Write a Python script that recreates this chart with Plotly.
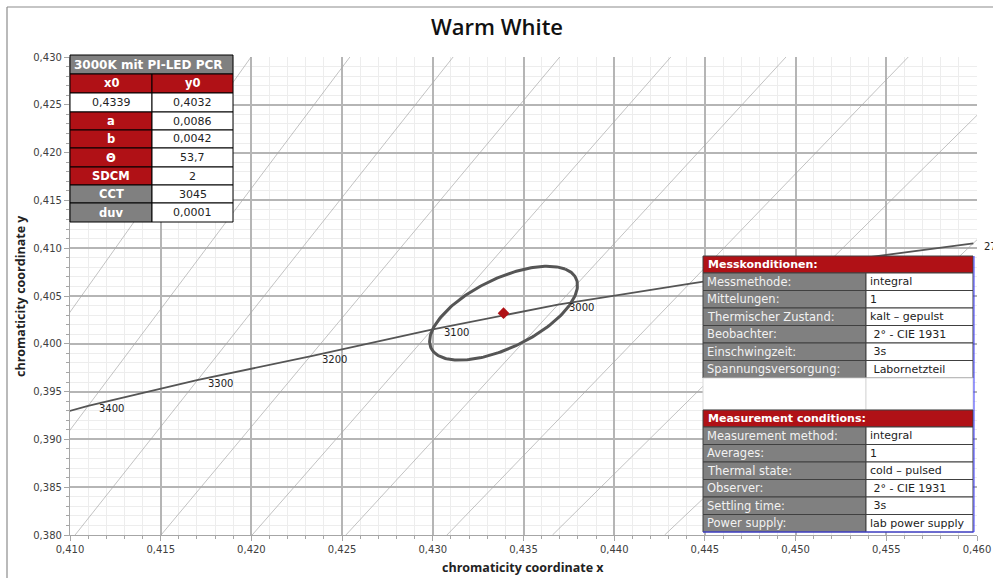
import numpy as np
import plotly.graph_objects as go

# ---------------- data ----------------
title_text = "Warm White"

# Planckian locus points
locus_cct = ["", "3400", "3300", "3200", "3100", "3000", "", "", "2700"]
locus_x = [0.4052, 0.4110, 0.4170, 0.4233, 0.4300, 0.4369, 0.4442, 0.4518, 0.4598]
locus_y = [0.3905, 0.3935, 0.3962, 0.3987, 0.4015, 0.4041, 0.4063, 0.4085, 0.4105]

# isotherm lines: x where each line meets y=0.380 and y=0.430
iso_y_low, iso_y_high = 0.380, 0.430
iso_x_low = [0.40128, 0.40566, 0.41028, 0.41502, 0.42004, 0.42521, 0.43078, 0.43660, 0.44278]
iso_x_high = [0.41998, 0.42543, 0.43112, 0.43700, 0.44312, 0.44947, 0.45621, 0.46325, 0.47066]

# ellipse parameters
x0, y0 = 0.4339, 0.4032
ell_a, ell_b, ell_theta = 0.0086, 0.0042, 53.7
sdcm = 2
table_title = "3000K mit PI-LED PCR"

param_labels = ["a", "b", "Θ", "SDCM", "CCT", "duv"]
param_values = ["0,0086", "0,0042", "53,7", "2", "3045", "0,0001"]
param_kinds = ["red", "red", "red", "red", "gray", "gray"]

mess_title_de = "Messkonditionen:"
mess_labels_de = ["Messmethode:", "Mittelungen:", "Thermischer Zustand:", "Beobachter:",
                  "Einschwingzeit:", "Spannungsversorgung:"]
mess_values_de = ["integral", "1", "kalt – gepulst", "\u00a02° - CIE 1931", "\u00a03s", "\u00a0Labornetzteil"]
mess_title_en = "Measurement conditions:"
mess_labels_en = ["Measurement method:", "Averages:", "Thermal state:", "Observer:",
                  "Settling time:", "Power supply:"]
mess_values_en = ["integral", "1", "cold – pulsed", "\u00a02° - CIE 1931", "\u00a03s", "lab power supply"]

x_range = [0.410, 0.460]
y_range = [0.380, 0.430]

# ---------------- layout helpers ----------------
W, H = 993, 578
L, R, T, B = 70, 977, 57, 535  # plot area in pixels
RED = "#b01116"
GRAY = "#808080"
FONT = "DejaVu Sans"


def fx(px):
    return (px - L) / (R - L)


def fy(py):
    return (B - py) / (B - T)


fig = go.Figure()

# isotherms
for xl, xh in zip(iso_x_low, iso_x_high):
    fig.add_trace(go.Scatter(x=[xl, xh], y=[iso_y_low, iso_y_high], mode="lines",
                             line=dict(color="#a8a8a8", width=0.7), hoverinfo="skip",
                             showlegend=False))

# Planckian locus
fig.add_trace(go.Scatter(x=locus_x, y=locus_y, mode="lines",
                         line=dict(color="#555555", width=1.8), showlegend=False))

# ellipse
t = np.linspace(0, 2 * np.pi, 241)
th = np.deg2rad(ell_theta)
a_d = ell_a * sdcm / 3
b_d = ell_b * sdcm / 3
ex = x0 + a_d * np.cos(t) * np.cos(th) - b_d * np.sin(t) * np.sin(th)
ey = y0 + a_d * np.cos(t) * np.sin(th) + b_d * np.sin(t) * np.cos(th)
fig.add_trace(go.Scatter(x=ex, y=ey, mode="lines", line=dict(color="#555555", width=3),
                         showlegend=False))
fig.add_trace(go.Scatter(x=[x0], y=[y0], mode="markers",
                         marker=dict(symbol="diamond", size=9, color=RED),
                         showlegend=False))

shapes = []
annots = []

# locus labels
for lx, ly, lab in zip(locus_x, locus_y, locus_cct):
    if lab:
        annots.append(dict(x=lx, y=ly, xref="x", yref="y", text=lab, showarrow=False,
                           xanchor="left", yanchor="middle", xshift=9, yshift=-3,
                           font=dict(family=FONT, size=10, color="#222")))


def cell(x1, y1, x2, y2, fill, line="#000000", lw=1):
    shapes.append(dict(type="rect", xref="paper", yref="paper", x0=fx(x1), x1=fx(x2),
                       y0=fy(y2), y1=fy(y1), fillcolor=fill,
                       line=dict(color=line, width=lw), layer="above"))


def text(px, py, s, color="#222", size=11, bold=False, anchor="center"):
    if bold:
        s = "<b>" + s + "</b>"
    annots.append(dict(xref="paper", yref="paper", x=fx(px), y=fy(py), text=s,
                       showarrow=False, xanchor=anchor, yanchor="middle",
                       font=dict(family=FONT, size=size, color=color)))


# ---- top-left table ----
tx1, tx2, tx3 = 70, 152, 233
rows = [55, 74, 93, 112, 130, 148, 167, 185, 203, 222]
cell(tx1, rows[0], tx3, rows[1], GRAY)
text(tx1 + 2, (rows[0] + rows[1]) / 2, table_title, "#ffffff", 12, True, "left")
cell(tx1, rows[1], tx2, rows[2], RED)
cell(tx2, rows[1], tx3, rows[2], RED)
text((tx1 + tx2) / 2, (rows[1] + rows[2]) / 2, "x0", "#ffffff", 11.5, True)
text((tx2 + tx3) / 2, (rows[1] + rows[2]) / 2, "y0", "#ffffff", 11.5, True)
cell(tx1, rows[2], tx2, rows[3], "#ffffff")
cell(tx2, rows[2], tx3, rows[3], "#ffffff")
text((tx1 + tx2) / 2, (rows[2] + rows[3]) / 2, f"{x0:.4f}".replace(".", ","), "#222", 11)
text((tx2 + tx3) / 2, (rows[2] + rows[3]) / 2, f"{y0:.4f}".replace(".", ","), "#222", 11)
for i, (lab, val, kind) in enumerate(zip(param_labels, param_values, param_kinds)):
    r1, r2 = rows[3 + i], rows[4 + i]
    cell(tx1, r1, tx2, r2, RED if kind == "red" else GRAY)
    cell(tx2, r1, tx3, r2, "#ffffff")
    text((tx1 + tx2) / 2, (r1 + r2) / 2, lab, "#ffffff", 11.5, True)
    text((tx2 + tx3) / 2, (r1 + r2) / 2, val, "#222", 11)

# ---- right tables ----
rx1, rx2, rx3 = 703, 866, 973


def cond_table(top, rowh, title, labels, values):
    cell(rx1, top, rx3, top + 17, RED, "#404040")
    text(rx1 + 3, top + 8.5, title, "#ffffff", 11, True, "left")
    y = top + 17
    for lab, val in zip(labels, values):
        cell(rx1, y, rx2, y + rowh, GRAY, "#404040")
        cell(rx2, y, rx3, y + rowh, "#ffffff", "#404040")
        text(rx1 + 2, y + rowh / 2, lab, "#f2f2f2", 11.5, False, "left")
        text(rx2 + 2, y + rowh / 2, val, "#222", 11, False, "left")
        y += rowh
    return y


end1 = cond_table(256, 17.5, mess_title_de, mess_labels_de, mess_values_de)
cell(rx1, end1, rx2, 410, "#ffffff", "#d9d9d9")
cell(rx2, end1, rx3, 410, "#ffffff", "#d9d9d9")
end2 = cond_table(410, 17.5, mess_title_en, mess_labels_en, mess_values_en)
# blue selection edge
shapes.append(dict(type="line", xref="paper", yref="paper", x0=fx(rx3 + 1), x1=fx(rx3 + 1),
                   y0=fy(256), y1=fy(end2), line=dict(color="#3b3bff", width=1), layer="above"))
shapes.append(dict(type="line", xref="paper", yref="paper", x0=fx(rx1), x1=fx(rx3 + 1),
                   y0=fy(end2), y1=fy(end2), line=dict(color="#3b3bff", width=1), layer="above"))

# outer chart border (top and left edges)
shapes.append(dict(type="line", xref="paper", yref="paper", x0=fx(7), x1=fx(W + 5),
                   y0=fy(7), y1=fy(7), line=dict(color="#8c8c8c", width=1.2)))
shapes.append(dict(type="line", xref="paper", yref="paper", x0=fx(7), x1=fx(7),
                   y0=fy(7), y1=fy(H + 5), line=dict(color="#8c8c8c", width=1.2)))

# axis titles
annots.append(dict(xref="paper", yref="paper", x=fx(523), y=fy(567),
                   text="<b>chromaticity coordinate x</b>", showarrow=False,
                   xanchor="center", yanchor="middle",
                   font=dict(family="Open Sans", size=12.5, color="#222")))
annots.append(dict(xref="paper", yref="paper", x=fx(20), y=fy(296),
                   text="<b>chromaticity coordinate y</b>", showarrow=False, textangle=-90,
                   xanchor="center", yanchor="middle",
                   font=dict(family="Open Sans", size=12.5, color="#222")))

axis_common = dict(
    showline=True, linecolor="#a6a6a6", linewidth=1.2, mirror=False,
    showgrid=True, gridcolor="#b5b5b5", gridwidth=1.5,
    ticks="outside", ticklen=5, tickcolor="#a6a6a6", tickwidth=1.2,
    tickformat=".3f", tickfont=dict(family=FONT, size=10, color="#404040"),
    zeroline=False, dtick=0.005, automargin=False,
    minor=dict(dtick=0.001, showgrid=True, gridcolor="#ededed", gridwidth=1,
               ticks="outside", ticklen=3, tickcolor="#a6a6a6"),
)

fig.update_layout(
    width=W, height=H,
    margin=dict(l=L, r=W - R, t=T, b=H - B, autoexpand=False),
    paper_bgcolor="white", plot_bgcolor="white",
    separators=",.",
    title=dict(text=title_text, x=497 / W, xref="container", xanchor="center",
               y=1 - 27 / H, yref="container", yanchor="middle",
               font=dict(family="Open Sans", size=22, color="#111", weight=600)),
    xaxis=dict(range=x_range, tick0=0.41, **axis_common),
    yaxis=dict(range=y_range, tick0=0.38, **axis_common),
    shapes=shapes,
    annotations=annots,
    showlegend=False,
)

fig.write_html("out.html",
               config={"displayModeBar": False},
               post_script="document.body.style.margin='0';"
                           "document.body.style.overflow='hidden';")
